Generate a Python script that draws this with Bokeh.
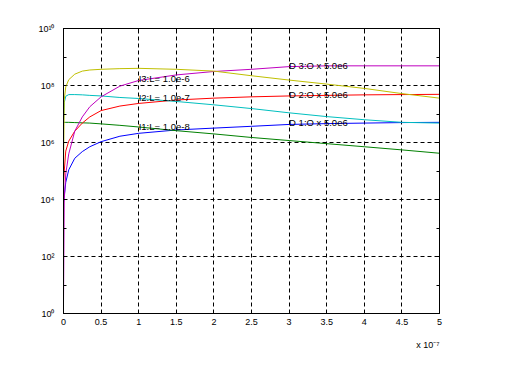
from bokeh.plotting import figure
from bokeh.models import (Range1d, FixedTicker, CustomJSTickFormatter, LinearAxis,
                          LogAxis, Title, ColumnDataSource)
from bokeh.core.properties import value
from bokeh.embed import file_html
from bokeh.resources import INLINE

# x in units of 1e-7
t = [0, 0.01, 0.03, 0.07, 0.15, 0.25, 0.35, 0.5, 0.75, 1, 1.5, 2, 2.5, 3, 3.5, 4, 4.5, 5]

blue = [7.9e3, 1.3e4, 4.0e4, 1.1e5, 2.8e5, 4.8e5, 7.1e5, 1.07e6, 1.66e6, 2.1e6, 2.75e6,
        3.2e6, 3.7e6, 4.3e6, 4.6e6, 4.8e6, 5.0e6, 5.1e6]
green = [5.0e6, 5.1e6, 5.1e6, 5.1e6, 5.0e6, 4.9e6, 4.8e6, 4.5e6, 4.0e6, 3.5e6, 2.6e6,
         2.0e6, 1.5e6, 1.17e6, 9.1e5, 7.1e5, 5.5e5, 4.2e5]
red = [3.2e4, 1.0e5, 5.0e5, 1.12e6, 2.5e6, 4.8e6, 7.9e6, 1.32e7, 1.9e7, 2.35e7, 3.1e7,
       3.6e7, 4.0e7, 4.3e7, 4.5e7, 4.7e7, 4.8e7, 4.9e7]
cyan = [5.0e6, 2.5e7, 4.2e7, 4.8e7, 4.8e7, 4.7e7, 4.5e7, 4.3e7, 3.8e7, 3.5e7, 2.75e7,
        2.1e7, 1.55e7, 1.1e7, 8.1e6, 6.3e6, 5.1e6, 4.8e6]
magenta = [2.3, 1.0e4, 7.9e4, 4.0e5, 2.5e6, 7.9e6, 1.8e7, 4.0e7, 9.5e7, 1.5e8, 2.35e8,
           3.1e8, 3.7e8, 4.6e8, 4.9e8, 4.9e8, 4.9e8, 4.9e8]
yellow = [1.0e5, 3.2e7, 8.9e7, 1.6e8, 2.5e8, 3.2e8, 3.5e8, 3.7e8, 3.9e8, 4.0e8, 3.7e8,
          3.2e8, 2.2e8, 1.55e8, 1.12e8, 7.9e7, 5.2e7, 3.6e7]

series = [blue, green, red, cyan, magenta, yellow]
colors = ["#0000ff", "#008000", "#ff0000", "#00bfbf", "#bf00bf", "#bfbf00"]

label_text = ["I3:L= 1.0e-6", "I2:L= 1.0e-7", "I1:L= 1.0e-8",
              "D 3:O x 5.0e6", "D 2:O x 5.0e6", "D 1:O x 5.0e6"]
label_x = [1, 1, 1, 3, 3, 3]
label_y = [1.8e8, 3.8e7, 3.7e6, 4.9e8, 4.8e7, 5.1e6]

x_ticks = [0, 0.5, 1, 1.5, 2, 2.5, 3, 3.5, 4, 4.5, 5]
y_all_ticks = [1, 1e1, 1e2, 1e3, 1e4, 1e5, 1e6, 1e7, 1e8, 1e9, 1e10]
y_label_ticks = [1, 1e2, 1e4, 1e6, 1e8, 1e10]
x_scale_text = "x 10\u207b\u2077"

FONT = "Liberation Sans"

p = figure(width=500, height=362, output_backend="svg", toolbar_location=None,
           y_axis_type="log", x_range=Range1d(0, 5), y_range=Range1d(1, 1e10),
           min_border_left=63, min_border_right=61, min_border_top=28, min_border_bottom=49)
p.background_fill_color = "white"
p.border_fill_color = "white"
p.outline_line_color = "black"
p.outline_line_width = 1

for ys, c in zip(series, colors):
    p.line(t, ys, line_color=c, line_width=1)

src = ColumnDataSource(dict(x=label_x, y=label_y, text=label_text))
p.text(x="x", y="y", text="text", source=src, text_font=value(FONT),
       text_font_size="9.5px", text_color="black", text_align="left",
       text_baseline="middle")

# axes
p.xaxis.ticker = FixedTicker(ticks=x_ticks)
p.xaxis.formatter = CustomJSTickFormatter(code="return String(tick);")
p.yaxis.ticker = FixedTicker(ticks=y_all_ticks)
p.yaxis.formatter = CustomJSTickFormatter(code="""
const e = Math.round(Math.log10(tick));
if (e % 2 != 0) return "";
const sup = {"0":"\u2070","1":"\u00b9","2":"\u00b2","3":"\u00b3","4":"\u2074",
             "5":"\u2075","6":"\u2076","7":"\u2077","8":"\u2078","9":"\u2079"};
return "10" + String(e).split("").map(c => sup[c]).join("");
""")
for ax in (p.xaxis[0], p.yaxis[0]):
    ax.major_tick_in = 3
    ax.major_tick_out = 0
    ax.minor_tick_in = 0
    ax.minor_tick_out = 0
    ax.axis_line_color = "black"
    ax.major_tick_line_color = "black"
    ax.major_label_text_font = FONT
    ax.major_label_text_font_size = "9px"
    ax.major_label_text_color = "black"
p.xaxis.major_label_standoff = 5
p.yaxis.major_label_standoff = 9
p.xaxis.axis_label = " "
p.xaxis.axis_label_text_font_size = "1px"
p.xaxis.axis_label_standoff = 0

top = LinearAxis(ticker=FixedTicker(ticks=x_ticks),
                 formatter=CustomJSTickFormatter(code='return "";'),
                 major_tick_in=3, major_tick_out=0, minor_tick_in=0, minor_tick_out=0,
                 axis_line_color="black", major_label_text_font_size="1px")
right = LogAxis(ticker=FixedTicker(ticks=y_all_ticks),
                formatter=CustomJSTickFormatter(code='return "";'),
                major_tick_in=3, major_tick_out=0, minor_tick_in=0, minor_tick_out=0,
                axis_line_color="black", major_label_text_font_size="1px")
p.add_layout(top, "above")
p.add_layout(right, "right")

# grid
p.xgrid.ticker = FixedTicker(ticks=x_ticks)
p.ygrid.ticker = FixedTicker(ticks=y_label_ticks)
for g in (p.xgrid[0], p.ygrid[0]):
    g.grid_line_color = "black"
    g.grid_line_dash = "4 3"
    g.grid_line_width = 1
    g.grid_line_alpha = 1.0

# x scale factor
p.add_layout(Title(text=x_scale_text, align="right", text_font=FONT,
                   text_font_size="9px", text_font_style="normal",
                   text_color="black", standoff=12), "below")

open("out.html", "w").write(file_html(p, INLINE))
